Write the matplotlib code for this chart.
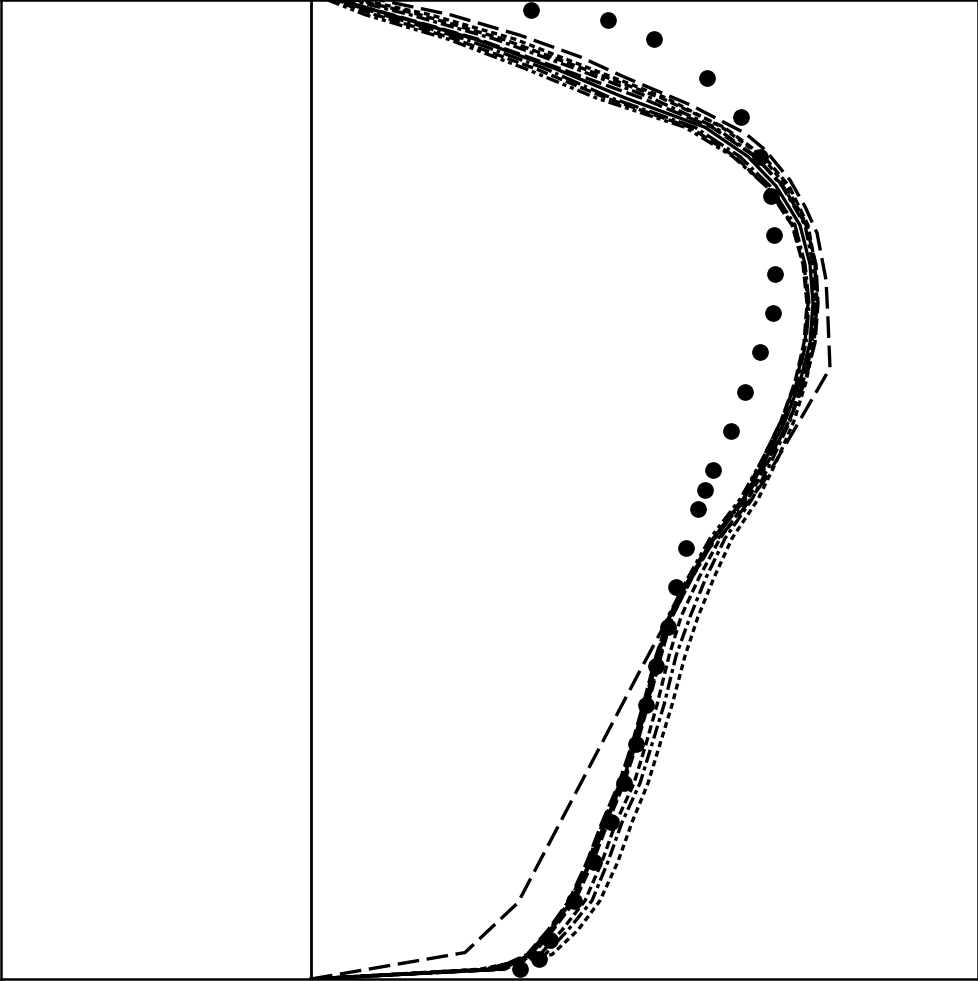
import numpy as np
import matplotlib
matplotlib.use("Agg")
import matplotlib.pyplot as plt

# measured points (circles)
obs_u = [0.440, 0.594, 0.686, 0.792, 0.860, 0.898, 0.920, 0.926, 0.928, 0.924,
         0.898, 0.868, 0.840, 0.804, 0.788, 0.774, 0.750, 0.730, 0.714, 0.690,
         0.670, 0.650, 0.626, 0.600, 0.566, 0.526, 0.478, 0.456, 0.418]
obs_z = [0.99, 0.98, 0.96, 0.92, 0.88, 0.84, 0.80, 0.76, 0.72, 0.68,
         0.64, 0.60, 0.56, 0.52, 0.50, 0.48, 0.44, 0.40, 0.36, 0.32,
         0.28, 0.24, 0.20, 0.16, 0.12, 0.08, 0.04, 0.02, 0.01]

# model profiles on a common height grid
z = [0, 0.01, 0.025, 0.05, 0.08, 0.12, 0.16, 0.20, 0.24, 0.28, 0.33, 0.37, 0.41, 0.45, 0.49,
     0.53, 0.57, 0.61, 0.65, 0.69, 0.73, 0.77, 0.81, 0.84, 0.87, 0.90, 0.93, 0.96, 0.985, 1.0]

run1 = [0, .378, .438, .478, .522, .558, .588, .622, .648, .668, .694, .718, .758, .804, .864,
        .908, .948, .978, .998, 1.004, .998, .978, .930, .874, .788, .628, .488, .328, .158, .058]
run2 = [0, .368, .432, .474, .516, .552, .582, .616, .642, .664, .690, .716, .758, .806, .868,
        .914, .956, .988, 1.008, 1.014, 1.010, .990, .944, .888, .802, .660, .498, .334, .162, .054]
run3 = [0, .388, .444, .484, .528, .564, .594, .626, .652, .674, .700, .722, .762, .806, .862,
        .902, .940, .968, .986, .992, .984, .962, .910, .848, .758, .590, .448, .288, .128, .042]
run4 = [0, .348, .468, .514, .562, .594, .622, .658, .682, .706, .730, .758, .790, .828, .882,
        .922, .958, .984, 1.002, 1.008, 1.004, .988, .942, .890, .808, .680, .528, .368, .198, .078]
run5 = [0, .338, .482, .534, .578, .614, .642, .674, .698, .722, .748, .774, .806, .842, .894,
        .932, .966, .990, 1.006, 1.012, 1.008, .992, .950, .902, .822, .710, .558, .408, .238, .102]
run6 = [0, .374, .434, .476, .518, .554, .584, .618, .644, .666, .692, .714, .754, .798, .858,
        .902, .940, .970, .988, .994, .986, .964, .910, .844, .748, .570, .428, .274, .108, .034]
run7 = [0, .358, .458, .502, .548, .582, .610, .646, .670, .692, .716, .740, .776, .818, .874,
        .916, .956, .984, 1.004, 1.010, 1.008, .994, .956, .906, .826, .700, .544, .384, .218, .090]
run8 = [0, .382, .440, .480, .524, .560, .590, .624, .650, .672, .698, .722, .762, .808, .866,
        .908, .944, .972, .990, .996, .988, .968, .918, .858, .768, .600, .468, .308, .144, .050]

# the odd one out
odd_z = [0, 0.027, 0.078, 0.313, 0.353, 0.431, 0.469, 0.510, 0.571,
         0.624, 0.673, 0.714, 0.762, 0.789, 0.816, 0.847, 0.864, 0.893, 0.921, 0.942, 0.964, 0.985, 1.0]
odd_u = [0, 0.308, 0.414, 0.656, 0.698, 0.780, 0.848, 0.908, 0.978,
         1.038, 1.034, 1.030, 1.012, 0.988, 0.958, 0.908, 0.868, 0.758, 0.628, 0.538, 0.418, 0.278, 0.138]

runs = [run1, run2, run3, run4, run5, run6, run7, run8]
styles = ['-', (0, (5, 1.5)), (0, (3.5, 1.2)), (0, (4, 1.2, 1.2, 1.2)),
          (0, (1.8, 1.2)), (0, (4, 1.2, 1.2, 1.2, 1.2, 1.2)), (0, (2.5, 1.2)), (0, (6, 1.2, 1, 1.2))]

fig = plt.figure(figsize=(9.79, 9.81), dpi=100)
ax = fig.add_axes([0.001, 2 / 981, 0.998, 979 / 981])

for r, ls in zip(runs, styles):
    ax.plot(r, z, color='black', lw=2.4, linestyle=ls)
ax.plot(odd_u, odd_z, color='black', lw=2.4, linestyle=(0, (6.5, 2.3)))
ax.plot(obs_u, obs_z, 'o', color='black', markersize=11, linestyle='none')

ax.axvline(0, color='black', lw=2.0)

ax.set_xlim(-0.62, 1.334)
ax.set_ylim(0, 1)
ax.set_xticks([])
ax.set_yticks([])
for s in ax.spines.values():
    s.set_linewidth(1.8)

fig.savefig('out.png', dpi=100)
